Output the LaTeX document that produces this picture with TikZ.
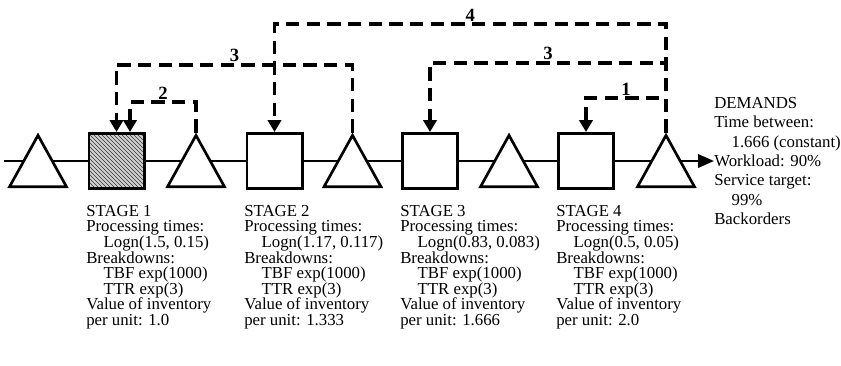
\documentclass[tikz,border=0pt]{standalone}
\usepackage{fontspec}
\setmainfont{Liberation Serif}
\usetikzlibrary{shapes.geometric,patterns,arrows.meta}

\begin{document}
\begin{tikzpicture}[x=0.75pt,y=-0.75pt,
    stage/.style={draw,line width=2pt,fill=white,minimum size=41.5pt,inner sep=0pt},
    buffer/.style={draw,line width=2pt,fill=white,isosceles triangle,
      isosceles triangle apex angle=58,shape border rotate=90,inner sep=0pt,
      minimum height=38.5pt,minimum width=42.5pt,anchor=lower side},
    info/.style={anchor=north west,align=left,inner sep=0pt,
      font=\fontsize{12.6}{11.7}\selectfont},
    signal/.style={dash pattern=on 10pt off 5.5pt,line width=2.3pt,
      -{Triangle[length=9pt,width=10pt]}},
    num/.style={above,inner sep=1pt,font=\bfseries\fontsize{14}{14}\selectfont}]
  \useasboundingbox (0,0) rectangle (841,365);
  \node[info,anchor=west,font=\fontsize{12.6}{14.5}\selectfont] (dem) at (714,161)
    {DEMANDS\\ Time between:\\ \hspace*{13pt}1.666 (constant)\\ Workload: 90\%\\
     Service target:\\ \hspace*{13pt}99\%\\ Backorders};
  \coordinate (in) at (4,161);
  \draw[line width=2pt,-{Triangle[length=12pt,width=10pt]}] (in) -- (dem);
  \node[buffer] (b0) at (38,188) {};
  \node[stage,preaction={fill=gray!35},pattern=north west lines,
    pattern color=black!80] (s1) at (116.5,161) {};
  \node[buffer] (b1) at (196,188) {};
  \node[stage] (s2) at (274.5,161) {};
  \node[buffer] (b2) at (352.5,188) {};
  \node[stage] (s3) at (430,161) {};
  \node[buffer] (b3) at (509,188) {};
  \node[stage] (s4) at (586,161) {};
  \node[buffer] (b4) at (666,188) {};
  \node[info] (t1) at (86,205) {STAGE 1\\ Processing times:\\
    \hspace*{13pt}Logn(1.5, 0.15)\\ Breakdowns:\\ \hspace*{13pt}TBF exp(1000)\\
    \hspace*{13pt}TTR exp(3)\\ Value of inventory\\ per unit: 1.0};
  \node[info] (t2) at (244,205) {STAGE 2\\ Processing times:\\
    \hspace*{13pt}Logn(1.17, 0.117)\\ Breakdowns:\\ \hspace*{13pt}TBF exp(1000)\\
    \hspace*{13pt}TTR exp(3)\\ Value of inventory\\ per unit: 1.333};
  \node[info] (t3) at (400,205) {STAGE 3\\ Processing times:\\
    \hspace*{13pt}Logn(0.83, 0.083)\\ Breakdowns:\\ \hspace*{13pt}TBF exp(1000)\\
    \hspace*{13pt}TTR exp(3)\\ Value of inventory\\ per unit: 1.666};
  \node[info] (t4) at (556,205) {STAGE 4\\ Processing times:\\
    \hspace*{13pt}Logn(0.5, 0.05)\\ Breakdowns:\\ \hspace*{13pt}TBF exp(1000)\\
    \hspace*{13pt}TTR exp(3)\\ Value of inventory\\ per unit: 2.0};
  \coordinate (k1) at (0,98);
  \coordinate (k2) at (130,102);
  \coordinate (k3) at (0,65);
  \coordinate (k4) at (0,24);
  \coordinate (k5) at (0,63);
  \draw[signal] (b1.apex) |- node[num,pos=.75]{2} (k2) -- (k2 |- s1.north);
  \draw[signal] (b2.apex) |- node[num,pos=.75]{3} (s1.north |- k3) -- (s1.north);
  \draw[signal] (b4.apex) |- node[num,pos=.75]{4} (s2.north |- k4) -- (s2.north);
  \draw[signal] (b4.apex) |- node[num,pos=.75]{3} (s3.north |- k5) -- (s3.north);
  \draw[signal] (b4.apex) |- node[num,pos=.75]{1} (s4.north |- k1) -- (s4.north);
\end{tikzpicture}
\end{document}
